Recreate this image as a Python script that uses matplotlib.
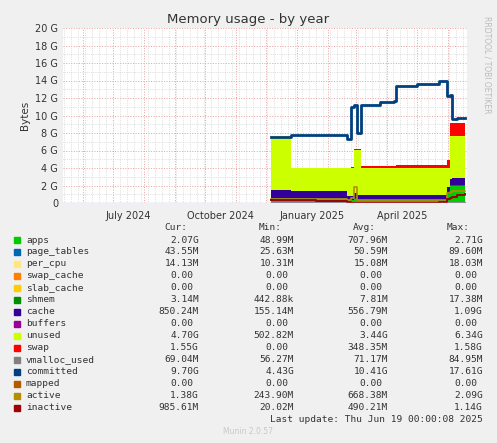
import matplotlib
matplotlib.use("Agg")
import matplotlib.pyplot as plt
import matplotlib.dates as mdates
from matplotlib.ticker import MultipleLocator, FuncFormatter
import numpy as np

# === DATA (GB) ===
DATES = ["2024-12-06", "2024-12-26", "2025-01-20", "2025-02-10", "2025-02-20",
         "2025-02-24", "2025-02-27", "2025-03-02", "2025-03-06", "2025-03-25",
         "2025-04-08", "2025-04-10", "2025-05-01", "2025-05-23", "2025-05-31",
         "2025-06-03", "2025-06-05", "2025-06-10", "2025-06-18"]
apps = [0.5, 0.5, 0.5, 0.5, 0.3, 0.3, 0.5, 0.3, 0.3, 0.3, 0.3, 0.3, 0.3, 0.3, 1.0, 2.0, 2.0, 2.0, 2.07]
page_tables = [0.05] * 19
per_cpu = [0.015] * 19
shmem = [0.008] * 19
cache = [0.9, 0.85, 0.8, 0.8, 0.4, 0.4, 0.6, 0.5, 0.5, 0.5, 0.5, 0.5, 0.5, 0.5, 0.8, 0.7, 0.75, 0.8, 0.85]
unused = [6.13, 2.58, 2.63, 2.63, 3.23, 3.23, 4.83, 5.13, 3.13, 3.13, 3.13, 3.13, 3.13, 3.13, 2.13, 4.83, 4.78, 4.73, 4.65]
swap = [0.0, 0.0, 0.0, 0.0, 0.05, 0.1, 0.2, 0.2, 0.25, 0.25, 0.25, 0.3, 0.3, 0.35, 0.9, 1.5, 1.5, 1.55, 1.55]
vmalloc_used = [0.07] * 19
committed = [7.6, 7.8, 7.8, 7.8, 7.3, 11.0, 11.2, 8.0, 11.2, 11.6, 11.7, 13.4, 13.6, 13.9, 12.2, 12.3, 9.6, 9.7, 9.7]
active = [0.5, 0.5, 0.45, 0.45, 0.3, 0.6, 1.8, 0.4, 0.35, 0.3, 0.3, 0.3, 0.3, 0.35, 1.2, 1.3, 1.35, 1.4, 1.38]
inactive = [0.3, 0.3, 0.28, 0.25, 0.1, 0.05, 0.05, 0.05, 0.05, 0.05, 0.05, 0.05, 0.05, 0.1, 0.5, 0.6, 0.7, 0.9, 0.99]

LEGEND = [
    ("apps", "#00CC00", "2.07G", "48.99M", "707.96M", "2.71G"),
    ("page_tables", "#0066B3", "43.55M", "25.63M", "50.59M", "89.60M"),
    ("per_cpu", "#FFE680", "14.13M", "10.31M", "15.08M", "18.03M"),
    ("swap_cache", "#FF8000", "0.00", "0.00", "0.00", "0.00"),
    ("slab_cache", "#FFCC00", "0.00", "0.00", "0.00", "0.00"),
    ("shmem", "#008F00", "3.14M", "442.88k", "7.81M", "17.38M"),
    ("cache", "#330099", "850.24M", "155.14M", "556.79M", "1.09G"),
    ("buffers", "#990099", "0.00", "0.00", "0.00", "0.00"),
    ("unused", "#CCFF00", "4.70G", "502.82M", "3.44G", "6.34G"),
    ("swap", "#FF0000", "1.55G", "0.00", "348.35M", "1.58G"),
    ("vmalloc_used", "#808080", "69.04M", "56.27M", "71.17M", "84.95M"),
    ("committed", "#004080", "9.70G", "4.43G", "10.41G", "17.61G"),
    ("mapped", "#B35A00", "0.00", "0.00", "0.00", "0.00"),
    ("active", "#B38F00", "1.38G", "243.90M", "668.38M", "2.09G"),
    ("inactive", "#A00000", "985.61M", "20.02M", "490.21M", "1.14G"),
]
COL = {name: c for name, c, *_ in LEGEND}

dates = mdates.datestr2num(DATES)

fig = plt.figure(figsize=(4.97, 4.43), dpi=100, facecolor="#F0F0F0")
W, H = 497, 443
ax = fig.add_axes([63 / W, 1 - 203 / H, 404 / W, 175 / H])
ax.set_facecolor("white")

stack = [("apps", apps), ("page_tables", page_tables), ("per_cpu", per_cpu),
         ("shmem", shmem), ("cache", cache), ("unused", unused), ("swap", swap)]
base = np.zeros(len(dates))
for name, vals in stack:
    top = base + np.array(vals)
    ax.fill_between(dates, base, top, step="post", color=COL[name], lw=0, zorder=2)
    base = top

for name, vals, lw in [("vmalloc_used", vmalloc_used, 1), ("active", active, 1.2),
                       ("inactive", inactive, 1.4), ("committed", committed, 2)]:
    ax.step(dates, vals, where="post", color=COL[name], lw=lw, zorder=3)

ax.set_xlim(mdates.datestr2num("2024-05-12"), mdates.datestr2num("2025-06-20"))
ax.set_ylim(0, 20)
ax.yaxis.set_major_locator(MultipleLocator(2))
ax.yaxis.set_minor_locator(MultipleLocator(1))
ax.yaxis.set_major_formatter(FuncFormatter(lambda v, p: f"{v:.0f}" if v == 0 else f"{v:.0f} G"))
ax.xaxis.set_major_locator(mdates.MonthLocator())
ax.xaxis.set_minor_locator(mdates.WeekdayLocator(byweekday=0))
ax.xaxis.set_major_formatter(plt.NullFormatter())
for d, lab in [("2024-07-16", "July 2024"), ("2024-10-16", "October 2024"),
               ("2025-01-16", "January 2025"), ("2025-04-16", "April 2025")]:
    ax.text(mdates.datestr2num(d), -0.9, lab, ha="center", va="top",
            fontsize=7, color="#333333")
ax.grid(which="major", color="#E8A0A0", ls=":", lw=0.7, zorder=1)
ax.grid(which="minor", color="#C8C8C8", ls=":", lw=0.5, zorder=1)
ax.tick_params(axis="both", which="both", length=0, labelsize=7, colors="#333333")
for s in ax.spines.values():
    s.set_visible(False)
ax.axhline(0, color="#C0C0E8", lw=1, zorder=4)
ax.set_ylabel("Bytes", fontsize=7.5, color="#333333")

fig.text(248 / W, 1 - 19 / H, "Memory usage - by year", ha="center", va="center",
         fontsize=9.5, color="#333333")
fig.text(487 / W, 1 - 65 / H, "RRDTOOL / TOBI OETIKER", rotation=270, ha="center",
         va="center", fontsize=5.5, color="#BBBBBB")

mono = "DejaVu Sans Mono"
fs = 6.8
for txt, x in [("Cur:", 187), ("Min:", 282), ("Avg:", 376), ("Max:", 470)]:
    fig.text(x / W, 1 - 227 / H, txt, ha="right", va="center", family=mono, fontsize=fs, color="#333333")
for i, (name, c, cur, mn, avg, mx) in enumerate(LEGEND):
    y = 1 - (240 + 12 * i) / H
    fig.patches.append(plt.Rectangle((14 / W, y - 3 / H), 6 / W, 6 / H, color=c,
                                     transform=fig.transFigure, figure=fig))
    fig.text(26 / W, y, name, ha="left", va="center", family=mono, fontsize=fs, color="#333333")
    for v, x in [(cur, 199), (mn, 294), (avg, 388), (mx, 483)]:
        if v == "0.00":
            x -= 6
        fig.text(x / W, y, v, ha="right", va="center", family=mono, fontsize=fs, color="#333333")
fig.text(483 / W, 1 - 420 / H, "Last update: Thu Jun 19 00:00:08 2025", ha="right",
         va="center", family=mono, fontsize=fs, color="#333333")
fig.text(248 / W, 1 - 432 / H, "Munin 2.0.57", ha="center", va="center",
         fontsize=5.5, color="#C8C8C8")

fig.savefig("out.png", dpi=100, facecolor=fig.get_facecolor())
